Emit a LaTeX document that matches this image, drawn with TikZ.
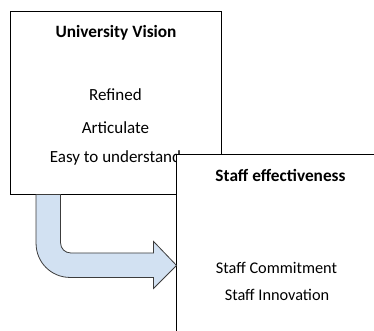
\documentclass[tikz,border=0pt]{standalone}
\usepackage{fontspec}
\setmainfont{Carlito}
\definecolor{bendfill}{RGB}{210,225,242}
\definecolor{bendline}{RGB}{60,60,60}
\begin{document}
\begin{tikzpicture}[x=1pt, y=-1pt,
    box/.style={draw, line width=0.9pt, fill=white, inner sep=0pt},
    txt/.style={anchor=base, inner sep=0pt, font=\fontsize{17}{20}\selectfont},
    small/.style={anchor=base, inner sep=0pt, font=\fontsize{16.3}{19}\selectfont},
    ttl/.style={txt, font=\fontsize{17.3}{20}\selectfont\bfseries},
    bentarrow/.style={draw=bendline, fill=bendfill, line width=0.8pt}
  ]
    \useasboundingbox (0,0) rectangle (374,331);
    \clip (0,0) rectangle (374,331);

    \node[box, minimum width=211pt, minimum height=183pt] (vision) at (115.5,102.5) {};
    \node[ttl] (vtitle)   at (116,37.3)    {University Vision};
    \node[txt] (refined)  at (115.5,101)   {Refined};
    \node[txt] (artic)    at (115.5,133.3) {Articulate};
    \node[txt] (easy)     at (115.5,162.3) {Easy to understand};

    \node[box, minimum width=204pt, minimum height=191pt] (staff) at (278,249.5) {};
    \node[ttl]   (stitle) at (280.5,181.7) {Staff effectiveness};
    \node[small] (commit) at (276.5,273.3) {Staff Commitment};
    \node[small] (innov)  at (277,300.7)   {Staff Innovation};

    % bent block arrow, measured from the lower left corner of the vision box
    \begin{scope}[shift={(vision.south west)}]
      \draw[bentarrow] (26.5,0) -- (51,0) -- (51,48.5)
        .. controls (51,54) and (55.5,58.5) .. (61,58.5)
        -- (144,58.5) -- (144,47) -- (167,71) -- (144,94) -- (144,83)
        -- (60.5,83) .. controls (41.7,83) and (26.5,67.8) .. (26.5,49)
        -- cycle;
    \end{scope}
\end{tikzpicture}
\end{document}
